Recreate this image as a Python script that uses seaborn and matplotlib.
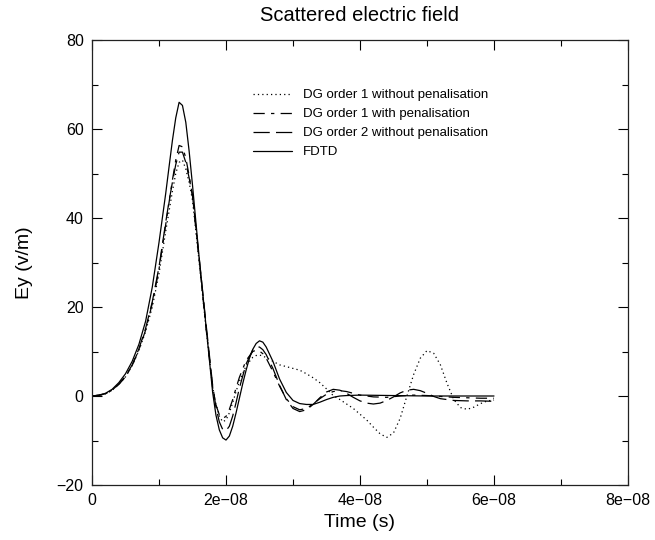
import matplotlib
matplotlib.use("Agg")
import matplotlib.pyplot as plt
import seaborn as sns
import pandas as pd
from matplotlib.ticker import MultipleLocator

sns.set_theme(style="ticks")
plt.rcParams['font.family'] = ['Liberation Sans', 'DejaVu Sans']
plt.rcParams['text.color'] = 'black'
plt.rcParams['axes.labelcolor'] = 'black'
plt.rcParams['xtick.color'] = 'black'
plt.rcParams['ytick.color'] = 'black'

# time in units of 1e-8 s, field in v/m
fdtd_t = [0.0, 0.1, 0.2, 0.3, 0.4, 0.5, 0.6, 0.7, 0.8, 0.9, 1.0, 1.1, 1.15, 1.2, 1.25, 1.3, 1.35,
          1.4, 1.45, 1.5, 1.6, 1.7, 1.8, 1.85, 1.9, 1.95, 2.0, 2.05, 2.1, 2.15, 2.2, 2.25, 2.3,
          2.35, 2.4, 2.45, 2.5, 2.55, 2.6, 2.7, 2.8, 2.9, 3.0, 3.1, 3.2, 3.3, 3.4, 3.5, 3.6,
          3.7, 3.8, 4.0, 4.5, 5.0, 5.5, 6.0]
fdtd_ey = [0.0, 0.2, 0.6, 1.5, 3.0, 5.0, 7.8, 11.6, 16.8, 24.5, 34.5, 45.5, 51.5, 57.4, 62.5, 66.0, 65.3,
           61.5, 55.0, 47.4, 31.0, 16.0, 0.9, -4.3, -7.6, -9.4, -9.9, -9.0, -6.8, -3.8, -0.5, 2.8, 5.8,
           8.5, 10.5, 11.8, 12.4, 12.1, 11.0, 7.8, 3.8, 0.8, -1.0, -1.7, -1.9, -1.9, -1.4, -0.8, -0.3,
           0.0, 0.1, 0.2, 0.1, 0.0, 0.0, 0.0]

dg1_t = [0.0, 0.1, 0.2, 0.3, 0.4, 0.5, 0.6, 0.7, 0.8, 0.9, 1.0, 1.1, 1.15, 1.2, 1.25, 1.3, 1.35,
         1.4, 1.45, 1.5, 1.6, 1.7, 1.8, 1.85, 1.9, 1.95, 2.0, 2.05, 2.1, 2.15, 2.2, 2.3, 2.4,
         2.45, 2.5, 2.55, 2.6, 2.7, 2.8, 2.9, 3.0, 3.1, 3.2, 3.3, 3.4, 3.5, 3.6, 3.7, 3.8,
         3.9, 4.0, 4.1, 4.2, 4.3, 4.4, 4.5, 4.6, 4.7, 4.8, 4.9, 5.0, 5.1, 5.2, 5.3, 5.4,
         5.5, 5.6, 5.7, 5.8, 5.9, 6.0]
dg1_ey = [0.0, 0.15, 0.5, 1.3, 2.6, 4.3, 6.8, 10.2, 14.5, 20.0, 27.5, 37.0, 41.5, 46.0, 50.0, 52.5, 53.0,
          51.0, 48.0, 44.0, 30.0, 15.5, 2.0, -1.8, -4.5, -5.8, -5.4, -3.8, -1.5, 1.0, 3.3, 6.8, 8.7,
          9.1, 9.2, 9.0, 8.6, 7.8, 7.0, 6.6, 6.2, 5.8, 5.0, 4.1, 3.0, 1.6, 0.1, -0.8, -1.8,
          -2.8, -4.1, -5.4, -7.0, -8.5, -9.3, -8.3, -5.0, 0.0, 4.8, 8.5, 10.2, 9.6, 7.0, 2.8, -0.8,
          -2.6, -3.0, -2.5, -1.7, -1.1, -0.9]

dg1pen_t = [0.0, 0.1, 0.2, 0.3, 0.4, 0.5, 0.6, 0.7, 0.8, 0.9, 1.0, 1.1, 1.15, 1.2, 1.25, 1.3, 1.35,
            1.4, 1.45, 1.5, 1.6, 1.7, 1.8, 1.85, 1.9, 1.95, 2.0, 2.05, 2.1, 2.15, 2.2, 2.3, 2.4,
            2.45, 2.5, 2.55, 2.6, 2.7, 2.8, 2.9, 3.0, 3.1, 3.2, 3.3, 3.4, 3.5, 3.6, 3.7, 3.8,
            3.9, 4.0, 4.2, 4.4, 4.6, 4.8, 5.0, 5.2, 5.4, 5.6, 5.8, 6.0]
dg1pen_ey = [0.0, 0.15, 0.5, 1.3, 2.6, 4.3, 6.9, 10.4, 14.8, 20.8, 28.5, 38.5, 43.5, 48.5, 53.0, 56.3, 56.0,
             53.5, 49.5, 45.0, 30.5, 15.5, 2.0, -2.0, -4.2, -5.0, -4.6, -3.0, -0.8, 1.8, 4.2, 8.0, 10.0,
             10.3, 10.1, 9.5, 8.5, 5.5, 2.2, -0.6, -2.4, -3.1, -2.8, -1.8, -0.6, 0.4, 1.0, 1.2, 1.0,
             0.6, 0.2, -0.2, -0.3, 0.0, 0.2, 0.1, -0.1, -0.3, -0.4, -0.5, -0.5]

dg2_t = [0.0, 0.1, 0.2, 0.3, 0.4, 0.5, 0.6, 0.7, 0.8, 0.9, 1.0, 1.1, 1.15, 1.2, 1.25, 1.3, 1.35,
         1.4, 1.45, 1.5, 1.6, 1.7, 1.8, 1.85, 1.9, 1.95, 2.0, 2.05, 2.1, 2.15, 2.2, 2.3, 2.4,
         2.45, 2.5, 2.55, 2.6, 2.7, 2.8, 2.9, 3.0, 3.1, 3.2, 3.3, 3.4, 3.5, 3.6, 3.7, 3.8,
         3.9, 4.0, 4.1, 4.2, 4.3, 4.4, 4.5, 4.6, 4.7, 4.8, 4.9, 5.0, 5.1, 5.2, 5.4, 5.6,
         5.8, 6.0]
dg2_ey = [0.0, 0.15, 0.5, 1.3, 2.7, 4.4, 7.0, 10.6, 15.2, 21.2, 29.0, 39.0, 43.8, 48.0, 52.0, 54.8, 54.8,
          52.5, 49.0, 45.0, 31.0, 16.5, 2.5, -2.5, -5.8, -7.5, -7.8, -6.8, -4.5, -1.5, 1.8, 7.2, 10.4,
          11.0, 11.0, 10.4, 9.3, 6.2, 2.4, -0.8, -2.8, -3.5, -3.1, -1.9, -0.4, 0.9, 1.5, 1.3, 0.6,
          -0.3, -1.1, -1.6, -1.8, -1.6, -1.0, -0.2, 0.7, 1.3, 1.5, 1.2, 0.6, -0.1, -0.6, -1.0, -1.1,
          -1.1, -1.2]

labels = ["DG order 1 without penalisation", "DG order 1 with penalisation",
          "DG order 2 without penalisation", "FDTD"]
x_ticks = [0, 2e-08, 4e-08, 6e-08, 8e-08]
x_ticklabels = ["0", "2e\u221208", "4e\u221208", "6e\u221208", "8e\u221208"]
y_ticks = [-20, 0, 20, 40, 60, 80]
y_ticklabels = ["\u221220", "0", "20", "40", "60", "80"]

frames = []
for name, tt, ey in zip(labels, [dg1_t, dg1pen_t, dg2_t, fdtd_t], [dg1_ey, dg1pen_ey, dg2_ey, fdtd_ey]):
    frames.append(pd.DataFrame({"time": [v * 1e-8 for v in tt], "Ey": ey, "series": name}))
df = pd.concat(frames, ignore_index=True)

dash_map = {labels[0]: (1, 2.5), labels[1]: (9, 5, 2.7, 5),
            labels[2]: (13, 5), labels[3]: ""}

fig = plt.figure(figsize=(6.55, 5.4), dpi=100)
fig.subplots_adjust(left=92/655, right=628/655, top=1-40/540, bottom=1-485/540)
ax = fig.add_subplot(111)

sns.lineplot(data=df, x="time", y="Ey", style="series", style_order=labels,
             dashes=dash_map, color="black", linewidth=0.9,
             estimator=None, sort=False, ax=ax)

leg = ax.get_legend()
handles = leg.legend_handles
for h in handles:
    h.set_color("black")
    h.set_linewidth(0.9)
ax.legend(handles, labels, loc="upper left", bbox_to_anchor=(0.30, 0.89),
          frameon=False, fontsize=9.5, handlelength=3.0, handletextpad=0.8,
          labelspacing=0.52, borderpad=0, borderaxespad=0)

ax.set_xlim(0, 8e-08)
ax.set_ylim(-20, 80)
ax.set_xticks(x_ticks)
ax.set_xticklabels(x_ticklabels)
ax.set_yticks(y_ticks)
ax.set_yticklabels(y_ticklabels)
ax.xaxis.set_minor_locator(MultipleLocator(1e-08))
ax.yaxis.set_minor_locator(MultipleLocator(10))
ax.tick_params(which="both", direction="in", top=True, right=True, labelsize=11.5, width=0.8)
ax.tick_params(which="major", length=7, pad=6)
ax.tick_params(which="minor", length=4)
for s in ax.spines.values():
    s.set_linewidth(0.9)
    s.set_color("#222222")

ax.set_xlabel("Time (s)", fontsize=14, labelpad=4)
ax.set_ylabel("Ey (v/m)", fontsize=14, labelpad=17)
ax.set_title("Scattered electric field", fontsize=14.5, pad=14)

fig.savefig("out.png", dpi=100)
